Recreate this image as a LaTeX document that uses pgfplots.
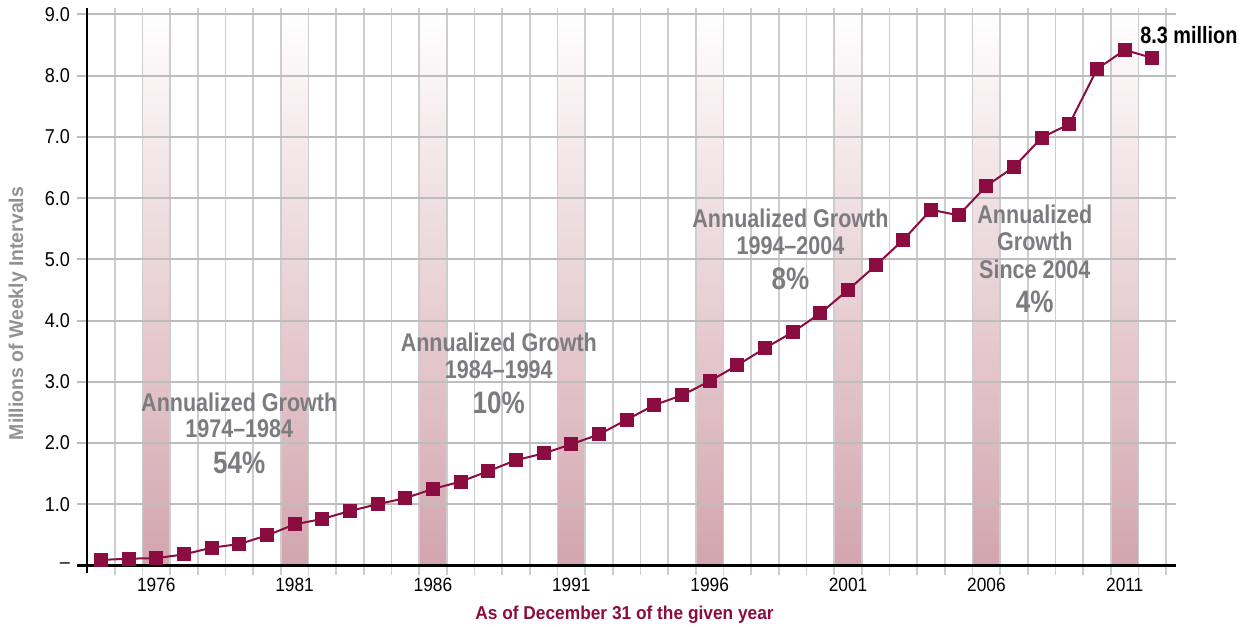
\documentclass[border=0pt]{standalone}
\usepackage{pgfplots}
\pgfplotsset{compat=1.18}
\usepackage{fontspec}
\setmainfont{Liberation Sans}
\newfontfamily\condA{Liberation Sans}[FakeStretch=0.84]
\newfontfamily\condT{Liberation Sans}[FakeStretch=0.9]
\newfontfamily\condX{Liberation Sans}[FakeStretch=0.93]
\newfontfamily\condY{Liberation Sans}[FakeStretch=0.97]
\definecolor{maroon}{HTML}{8B0C40}
\definecolor{anngray}{HTML}{7C7C80}
\definecolor{ylgray}{HTML}{929296}
\definecolor{gridv}{HTML}{CDCDCF}
\definecolor{gridh}{HTML}{BDBDBF}
\definecolor{bandbot}{HTML}{D3A5AE}
\begin{document}
\begin{tikzpicture}
\begin{axis}[
  set layers,
  scale only axis, width=544pt, height=278.5pt,
  xmin=1973.5, xmax=2012.85, ymin=0, ymax=9.106,
  clip=false,
  axis lines=left,
  axis line style={-, line width=1.2pt, black},
  x axis line style={shorten <=-5pt},
  y axis line style={shorten <=-4pt},
  tick align=outside,
  major tick length=5pt,
  xtick={1974.5,1975.5,...,2012.5},
  xticklabels={},
  extra x ticks={1976,1981,1986,1991,1996,2001,2006,2011},
  extra x tick labels={1976,1981,1986,1991,1996,2001,2006,2011},
  extra x tick style={major tick length=0pt, grid=none},
  xtick style={gridv, line width=0.8pt},
  ytick={0,1,...,9},
  yticklabels={–,1.0,2.0,3.0,4.0,5.0,6.0,7.0,8.0,9.0},
  ytick style={gridh, line width=1pt},
  grid=major,
  major x grid style={gridv, line width=0.8pt},
  major y grid style={gridh, line width=1pt},
  /pgf/number format/assume math mode=true,
  xticklabel style={font=\condT\fontsize{9.6}{11}\selectfont, black, yshift=-3pt},
  yticklabel style={font=\condT\fontsize{10}{11}\selectfont, black},
  xlabel={As of December 31 of the given year},
  xlabel style={at={(axis description cs:0.4936,-0.088)}, anchor=center,
    font=\condX\bfseries\fontsize{9.3}{11}\selectfont, text=maroon},
  ylabel={Millions of Weekly Intervals},
  ylabel style={at={(axis description cs:-0.0634,0.452)}, anchor=center,
    font=\condY\bfseries\fontsize{10}{12}\selectfont, text=ylgray},
]
% shaded bands
\addplot[ybar, bar width=1, draw=none, top color=white, bottom color=bandbot,
  on layer=axis background, forget plot]
  coordinates {(1976,9.106) (1981,9.106) (1986,9.106) (1991,9.106)
               (1996,9.106) (2001,9.106) (2006,9.106) (2011,9.106)};
% data
\addplot[maroon, line width=1pt, mark=square*, mark size=3pt,
  mark options={fill=maroon, draw=maroon}]
  coordinates {
  (1974,0.09) (1975,0.11) (1976,0.12) (1977,0.18) (1978,0.29) (1979,0.35)
  (1980,0.49) (1981,0.67) (1982,0.76) (1983,0.89) (1984,1.00) (1985,1.10)
  (1986,1.25) (1987,1.37) (1988,1.54) (1989,1.72) (1990,1.83) (1991,1.98)
  (1992,2.14) (1993,2.38) (1994,2.62) (1995,2.78) (1996,3.01) (1997,3.27)
  (1998,3.55) (1999,3.81) (2000,4.12) (2001,4.50) (2002,4.90) (2003,5.32)
  (2004,5.81) (2005,5.72) (2006,6.20) (2007,6.51) (2008,6.99) (2009,7.21)
  (2010,8.11) (2011,8.42) (2012,8.29)};
% annotations
\tikzset{ann/.style={font=\condA\bfseries\fontsize{12.8}{14}\selectfont, text=anngray, inner sep=0pt},
         pct/.style={font=\condA\bfseries\fontsize{15.5}{17}\selectfont, text=anngray, inner sep=0pt}}
\node[ann] at (axis cs:1979.0,2.67) {Annualized Growth};
\node[ann] at (axis cs:1979.0,2.24) {1974–1984};
\node[pct] at (axis cs:1979.0,1.68) {54\%};
\node[ann] at (axis cs:1988.38,3.65) {Annualized Growth};
\node[ann] at (axis cs:1988.38,3.19) {1984–1994};
\node[pct] at (axis cs:1988.38,2.65) {10\%};
\node[ann] at (axis cs:1998.92,5.67) {Annualized Growth};
\node[ann] at (axis cs:1998.92,5.22) {1994–2004};
\node[pct] at (axis cs:1998.92,4.69) {8\%};
\node[ann] at (axis cs:2007.75,5.74) {Annualized};
\node[ann] at (axis cs:2007.75,5.29) {Growth};
\node[ann] at (axis cs:2007.75,4.83) {Since 2004};
\node[pct] at (axis cs:2007.75,4.30) {4\%};
\node[anchor=west, inner sep=0pt, font=\condA\bfseries\fontsize{11.8}{13}\selectfont, text=black]
  at (axis cs:2011.55,8.66) {8.3 million};
\end{axis}
\pgfresetboundingbox
\path[use as bounding box] (-43.5pt,-30.5pt) rectangle (580.5pt,282.5pt);
\end{tikzpicture}
\end{document}
